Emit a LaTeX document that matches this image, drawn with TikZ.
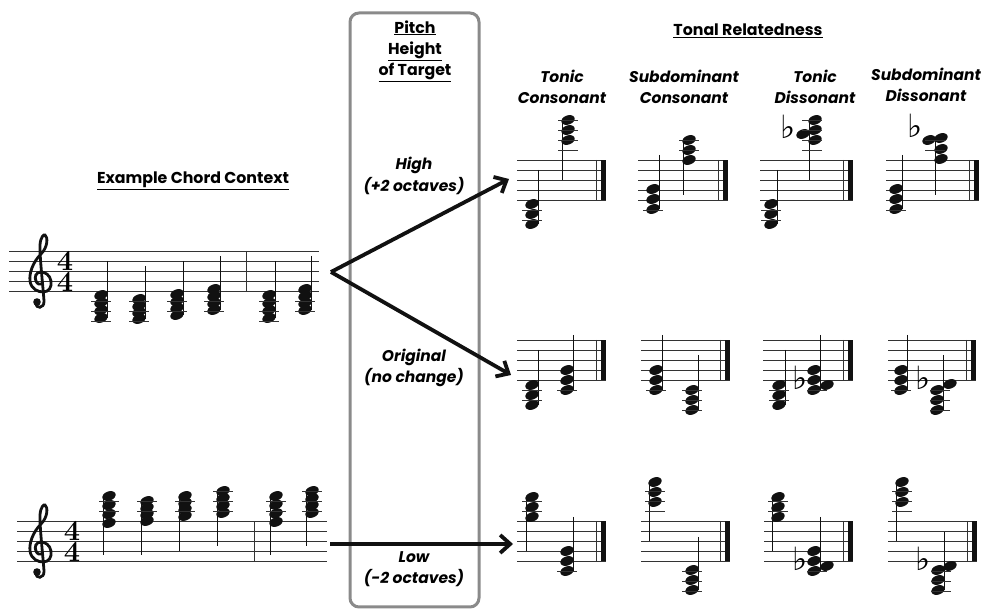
\documentclass[tikz,border=0pt]{standalone}
\usepackage{fontspec}
\setmainfont{Poppins}
\newfontfamily\symfont{DejaVu Sans}
\newfontfamily\lmfont{Latin Modern Roman}
\usepackage{tikz}
\usetikzlibrary{arrows.meta}
\definecolor{ink}{HTML}{111111}
\definecolor{boxedge}{HTML}{8A8A8A}
\newcommand{\musstaff}[3]{\foreach \k in {0,...,4}{\draw[staffln] (#1,#3+10*\k) -- (#2,#3+10*\k);}}
\newcommand{\finalbar}[2]{\draw[staffln] (#1-10,#2) -- (#1-10,#2+40); \fill[ink] (#1-5,#2) rectangle (#1,#2+40);}
\newcommand{\heads}[2]{\foreach \hy in {#2}{\fill[ink] (#1,\hy) ellipse [x radius=6.9pt,y radius=4.6pt,rotate=20];}}
\newcommand{\ledgers}[2]{\foreach \ly in {#2}{\draw[staffln] (#1-10,\ly) -- (#1+10,\ly);}}
\newcommand{\gclef}[2]{%
  \begin{scope}[shift={(#1,#2)}]
    \draw[clefln] (-4.5,22) .. controls (-6,28) and (3.5,28) .. (3,20)
      .. controls (2,5) and (-1.5,-25) .. (-1,-36)
      .. controls (-0.5,-44) and (3,-47) .. (4,-46)
      .. controls (7,-44) and (7,-34) .. (0,-27)
      .. controls (-8,-19) and (-12,-8) .. (-11,0)
      .. controls (-10,8) and (-3,11) .. (2,11)
      .. controls (8,11) and (11,6) .. (10,0)
      .. controls (9,-6) and (4,-9) .. (0,-9)
      .. controls (-5,-9) and (-7,-4) .. (-5,0)
      .. controls (-4,3) and (-1,4) .. (1,3);
    \fill[ink] (-4,21) circle [radius=3.8pt];
  \end{scope}}

\begin{document}
\begin{tikzpicture}[
  x=1pt,y=-1pt,
  staffln/.style={line width=0.9pt,draw=black!80},
  stemln/.style={line width=0.9pt,draw=ink},
  clefln/.style={line width=2.8pt,draw=ink,line cap=round},
  arr/.style={-{Straight Barb[length=10pt,width=18pt]},line width=3.8pt,ink},
  hdr/.style={font=\fontsize{15.8}{21}\selectfont\bfseries,align=center},
  lbl/.style={font=\fontsize{15.5}{21.5}\selectfont\bfseries\itshape,align=center},
  tsig/.style={font=\lmfont\bfseries\fontsize{29}{21}\selectfont,inner sep=0pt,align=center},
  flatsign/.style={font=\symfont\bfseries\fontsize{32}{32}\selectfont,inner sep=0pt}
]
\useasboundingbox (0,0) rectangle (989,609);
\draw[boxedge,line width=3pt,rounded corners=9pt] (350,13) rectangle (479,607);

\node[hdr] (ctxlbl) at (193,181) {\underline{Example Chord Context}};
\node[hdr] (pitchlbl) at (415,51) {\underline{Pitch}\\\underline{Height}\\\underline{of Target}};
\node[hdr] (tonallbl) at (748,31) {\underline{Tonal Relatedness}};
\node[lbl] (tclbl) at (562,87) {Tonic\\Consonant};
\node[lbl] (sclbl) at (684,87) {Subdominant\\Consonant};
\node[lbl] (tdlbl) at (815,87) {Tonic\\Dissonant};
\node[lbl] (sdlbl) at (926,85) {Subdominant\\Dissonant};
\node[lbl] (hilbl) at (414,176) {High\\(+2 octaves)};
\node[lbl] (orlbl) at (414,368) {Original\\(no change)};
\node[lbl] (lolbl) at (414,569) {Low\\(-2 octaves)};

\musstaff{9}{319}{251}
\draw[staffln] (246,251) -- (246,291);
\gclef{41}{281}
\node[tsig] (tsA) at (65,271) {4\\4};
\draw[stemln] (107,261) -- (107,318); \heads{101}{295,302.7,310.3,318} \ledgers{101}{301,311,321}
\draw[stemln] (145,266) -- (145,319); \heads{139}{299,305.7,312.3,319} \ledgers{139}{301,311,321}
\draw[stemln] (183,261) -- (183,315); \heads{177}{294,301,308,315} \ledgers{177}{301,311}
\draw[stemln] (220,256) -- (220,310); \heads{214}{289,296,303,310} \ledgers{214}{301,311}
\draw[stemln] (275,261) -- (275,318); \heads{269}{295,302.7,310.3,318} \ledgers{269}{301,311,321}
\draw[stemln] (311,256) -- (311,310); \heads{305}{289,296,303,310} \ledgers{305}{301,311}

\musstaff{17}{327}{521}
\draw[staffln] (254,521) -- (254,561);
\gclef{41}{551}
\node[tsig] (tsB) at (72,541) {4\\4};
\draw[stemln] (103,496) -- (103,555); \heads{109}{496,505,514,523} \ledgers{109}{501,511}
\draw[stemln] (141,501) -- (141,555); \heads{147}{501,507.7,514.3,521} \ledgers{147}{501,511}
\draw[stemln] (179,496) -- (179,551); \heads{185}{496,502.7,509.3,516} \ledgers{185}{501,511}
\draw[stemln] (217,491) -- (217,546); \heads{223}{491,498.3,505.7,513} \ledgers{223}{491,501,511}
\draw[stemln] (270,496) -- (270,555); \heads{276}{496,504.7,513.3,522} \ledgers{276}{501,511}
\draw[stemln] (306,491) -- (306,546); \heads{312}{491,498.3,505.7,513} \ledgers{312}{491,501,511}

\musstaff{517}{606}{160} \finalbar{606}{160}
\draw[stemln] (538,170) -- (538,224); \heads{532}{204,214,224} \ledgers{532}{210,220}
\draw[stemln] (562,120) -- (562,180); \heads{568}{120,130,140} \ledgers{568}{120,130,140,150}
\musstaff{638}{728}{160} \finalbar{728}{160}
\draw[stemln] (659,155) -- (659,209); \heads{653}{189,199,209} \ledgers{653}{210}
\draw[stemln] (683,140) -- (683,195); \heads{689}{140,150,160} \ledgers{689}{140,150}
\musstaff{760}{853}{160} \finalbar{853}{160}
\draw[stemln] (777,170) -- (777,224); \heads{771}{204,214,224} \ledgers{771}{210,220}
\draw[stemln] (809,120) -- (809,180); \heads{815}{120,130,140} \heads{803}{134} \ledgers{812}{120,130,140,150}
\node[flatsign] (flA) at (788,127) {♭};
\musstaff{886}{979}{160} \finalbar{979}{160}
\draw[stemln] (902,155) -- (902,209); \heads{896}{189,199,209} \ledgers{896}{210}
\draw[stemln] (935,138) -- (935,195); \heads{941}{138,149,159} \heads{929}{140} \ledgers{935}{140,150}
\node[flatsign] (flB) at (915,126) {♭};

\musstaff{517}{606}{340} \finalbar{606}{340}
\draw[stemln] (538,350) -- (538,405); \heads{532}{385,395,405} \ledgers{532}{390,400}
\draw[stemln] (573,335) -- (573,390); \heads{567}{370,380,390} \ledgers{567}{390}
\musstaff{641}{730}{340} \finalbar{730}{340}
\draw[stemln] (662,335) -- (662,390); \heads{656}{370,380,390} \ledgers{656}{390}
\draw[stemln] (698,355) -- (698,410); \heads{692}{390,400,410} \ledgers{692}{390,400,410}
\musstaff{763}{853}{340} \finalbar{853}{340}
\draw[stemln] (785,350) -- (785,405); \heads{779}{385,395,405} \ledgers{779}{390,400}
\draw[stemln] (820,335) -- (820,390); \heads{814}{370,380,390} \heads{827}{385} \ledgers{817}{390}
\node[flatsign] (flC) at (800,378) {♭};
\musstaff{888}{976}{340} \finalbar{976}{340}
\draw[stemln] (907,335) -- (907,390); \heads{901}{370,380,390} \ledgers{901}{390}
\draw[stemln] (943,355) -- (943,410); \heads{937}{390,400,410} \heads{950}{384} \ledgers{940}{390,400,410}
\node[flatsign] (flD) at (923,378) {♭};

\musstaff{517}{606}{521} \finalbar{606}{521}
\draw[stemln] (526,497) -- (526,551); \heads{532}{497,507,517} \ledgers{532}{501,511}
\draw[stemln] (573,517) -- (573,571); \heads{567}{551,561,571} \ledgers{567}{571}
\musstaff{641}{730}{521} \finalbar{730}{521}
\draw[stemln] (649,482) -- (649,541); \heads{655}{482,492,502} \ledgers{655}{491,501,511}
\draw[stemln] (698,537) -- (698,590); \heads{692}{570,580,590} \ledgers{692}{571,581,591}
\musstaff{764}{853}{521} \finalbar{853}{521}
\draw[stemln] (772,497) -- (772,551); \heads{778}{497,507,517} \ledgers{778}{501,511}
\draw[stemln] (820,517) -- (820,571); \heads{814}{551,561,571} \heads{827}{566} \ledgers{817}{571}
\node[flatsign] (flE) at (800,559) {♭};
\musstaff{888}{977}{521} \finalbar{977}{521}
\draw[stemln] (896,482) -- (896,541); \heads{902}{482,492,502} \ledgers{902}{491,501,511}
\draw[stemln] (944,532) -- (944,590); \heads{938}{570,580,590} \heads{950}{566} \ledgers{941}{571,581,591}
\node[flatsign] (flF) at (923,559) {♭};

\coordinate (fork) at (331,272);
\coordinate (tipHigh) at (509,179);
\coordinate (tipOrig) at (511,375);
\coordinate (lowStart) at (330,544);
\coordinate (tipLow) at (513,544);
\draw[arr] (fork) -- (tipHigh);
\draw[arr] (fork) -- (tipOrig);
\draw[arr] (lowStart) -- (tipLow);
\end{tikzpicture}
\end{document}
